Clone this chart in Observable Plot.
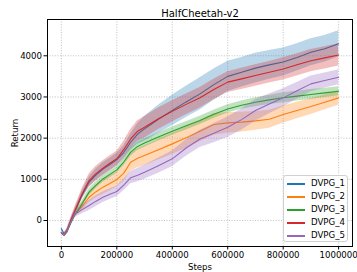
<!DOCTYPE html>
<html>
<head>
<meta charset="utf-8">
<script src="https://cdn.jsdelivr.net/npm/d3@7"></script>
<script src="https://cdn.jsdelivr.net/npm/@observablehq/plot@0.6"></script>
<style>
  html, body { margin: 0; padding: 0; background: #fff; }
  #wrap { position: relative; width: 357px; height: 272px; font-family: "DejaVu Sans", sans-serif; }
  #legend { position: absolute; left: 283px; top: 175px; width: 65px; height: 67px; box-sizing: border-box;
    border: 1px solid #d0d0d0; border-radius: 3px; background: rgba(255,255,255,0.8); font-size: 8.6px; color: #000; }
  .li { position: absolute; left: 0; width: 60px; height: 13px; }
  .sw { position: absolute; left: 3px; top: 6px; width: 18px; height: 2px; }
  .tx { position: absolute; left: 27px; top: 0px; line-height: 13px; white-space: nowrap; }
</style>
</head>
<body>
<div id="wrap"></div>
<script>
const title = "HalfCheetah-v2";
const xLabel = "Steps";
const yLabel = "Return";
const seriesNames = ["DVPG_1", "DVPG_2", "DVPG_3", "DVPG_4", "DVPG_5"];
const colors = ["#1f77b4", "#ff7f0e", "#2ca02c", "#d62728", "#9467bd"];
const xTicks = [0, 200000, 400000, 600000, 800000, 1000000];
const yTicks = [0, 1000, 2000, 3000, 4000];

const steps = [0, 10000, 20000, 35000, 50000, 75000, 100000, 125000, 150000, 175000, 200000, 225000, 250000, 275000, 300000, 350000, 400000, 450000, 500000, 550000, 600000, 650000, 700000, 750000, 800000, 850000, 900000, 950000, 1000000];

const dvpg1 = [-200, -320, -240, 10, 230, 620, 930, 1110, 1250, 1360, 1480, 1650, 1900, 2100, 2225, 2460, 2670, 2880, 3075, 3300, 3500, 3600, 3700, 3780, 3850, 3960, 4085, 4170, 4290];
const dvpg2 = [-300, -350, -260, -30, 170, 340, 565, 700, 810, 900, 995, 1150, 1415, 1510, 1578, 1720, 1861, 2010, 2170, 2330, 2370, 2390, 2420, 2460, 2572, 2670, 2767, 2870, 2978];
const dvpg3 = [-300, -360, -280, -50, 150, 405, 690, 860, 1010, 1120, 1230, 1420, 1660, 1800, 1880, 2030, 2170, 2300, 2430, 2580, 2710, 2800, 2870, 2930, 2980, 3020, 3060, 3100, 3140];
const dvpg4 = [-300, -350, -260, 20, 260, 650, 970, 1140, 1270, 1390, 1500, 1720, 1980, 2170, 2265, 2470, 2650, 2820, 2980, 3180, 3360, 3440, 3520, 3600, 3680, 3780, 3880, 3950, 4020];
const dvpg5 = [-300, -350, -270, -30, 160, 265, 365, 470, 565, 640, 705, 860, 1040, 1100, 1172, 1330, 1497, 1760, 1980, 2120, 2265, 2450, 2670, 2830, 2978, 3150, 3318, 3400, 3478];

const spread1 = [30, 30, 40, 60, 80, 100, 120, 140, 150, 150, 150, 160, 200, 250, 300, 340, 370, 380, 390, 380, 370, 360, 360, 350, 340, 330, 330, 320, 320];
const spread2 = [30, 30, 40, 60, 80, 100, 130, 150, 170, 180, 180, 200, 220, 230, 240, 250, 260, 260, 260, 260, 250, 240, 230, 220, 210, 200, 190, 180, 180];
const spread3 = [25, 25, 30, 40, 60, 70, 80, 80, 80, 80, 80, 90, 100, 100, 100, 100, 100, 100, 100, 100, 100, 100, 110, 110, 120, 120, 120, 110, 110];
const spread4 = [30, 30, 40, 60, 90, 130, 160, 180, 180, 180, 180, 200, 230, 250, 260, 260, 260, 250, 250, 250, 250, 260, 260, 260, 270, 270, 270, 270, 270];
const spread5 = [30, 30, 40, 60, 80, 100, 120, 130, 130, 130, 130, 140, 150, 160, 170, 180, 190, 200, 210, 230, 250, 260, 260, 240, 220, 200, 190, 180, 180];

const means = [dvpg1, dvpg2, dvpg3, dvpg4, dvpg5];
const spreads = [spread1, spread2, spread3, spread4, spread5];

const rows = [];
seriesNames.forEach((name, s) => {
  steps.forEach((x, i) => {
    rows.push({series: name, step: x, mean: means[s][i], lo: means[s][i] - spreads[s][i], hi: means[s][i] + spreads[s][i]});
  });
});

const marks = [
  Plot.gridX(xTicks, {stroke: "#b0b0b0", strokeOpacity: 1, strokeWidth: 0.8, strokeDasharray: "1,1.6"}),
  Plot.gridY(yTicks, {stroke: "#b0b0b0", strokeOpacity: 1, strokeWidth: 0.8, strokeDasharray: "1,1.6"})
];
seriesNames.forEach((name, s) => {
  const d = rows.filter(r => r.series === name);
  marks.push(Plot.areaY(d, {x: "step", y1: "lo", y2: "hi", fill: colors[s], fillOpacity: 0.3}));
  marks.push(Plot.line(d, {x: "step", y: "mean", stroke: colors[s], strokeWidth: 1.1}));
});
marks.push(
  Plot.axisX(xTicks, {tickSize: 3.5, tickPadding: 2, tickFormat: d => String(d), label: xLabel, labelArrow: "none", labelAnchor: "center", labelOffset: 23, fontSize: 8.6}),
  Plot.axisY(yTicks, {tickSize: 3.5, tickPadding: 2, tickFormat: d => String(d), label: yLabel, labelArrow: "none", labelAnchor: "center", labelOffset: 36, fontSize: 8.6}),
  Plot.frame({stroke: "#000", strokeWidth: 1}),
  Plot.text([title], {frameAnchor: "top", dy: -10, fontSize: 10, fill: "#000"})
);

const chart = Plot.plot({
  width: 357,
  height: 272,
  marginLeft: 47,
  marginRight: 5,
  marginTop: 19,
  marginBottom: 26,
  style: {fontFamily: "DejaVu Sans, sans-serif", fontSize: "8.6px", color: "#000", background: "#fff"},
  x: {domain: [-50000, 1050000]},
  y: {domain: [-631, 4881]},
  marks
});
const wrap = document.getElementById("wrap");
wrap.appendChild(chart);

const leg = document.createElement("div");
leg.id = "legend";
seriesNames.forEach((name, s) => {
  const it = document.createElement("div");
  it.className = "li";
  it.style.top = Math.round(1 + s * 12.9) + "px";
  const sw = document.createElement("div");
  sw.className = "sw";
  sw.style.background = colors[s];
  const tx = document.createElement("div");
  tx.className = "tx";
  tx.textContent = name;
  it.appendChild(sw);
  it.appendChild(tx);
  leg.appendChild(it);
});
wrap.appendChild(leg);
</script>
</body>
</html>
